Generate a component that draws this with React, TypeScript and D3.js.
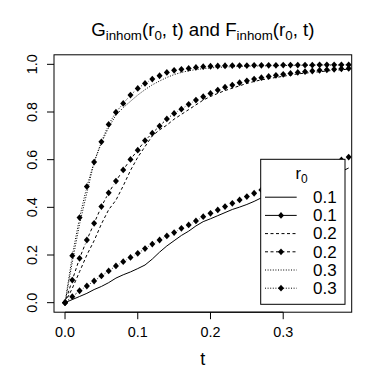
import React from 'react';
import * as d3 from 'd3';

const tValues = [0, 0.01, 0.02, 0.03, 0.04, 0.05, 0.06, 0.07, 0.08, 0.09, 0.1, 0.11, 0.12, 0.13, 0.14, 0.15, 0.16, 0.17, 0.18, 0.19, 0.2, 0.21, 0.22, 0.23, 0.24, 0.25, 0.26, 0.27, 0.28, 0.29, 0.3, 0.31, 0.32, 0.33, 0.34, 0.35, 0.36, 0.37, 0.38, 0.39];

const G01 = [0, 0.013, 0.026, 0.039, 0.055, 0.068, 0.084, 0.103, 0.117, 0.129, 0.143, 0.158, 0.183, 0.212, 0.238, 0.26, 0.282, 0.3, 0.322, 0.34, 0.352, 0.365, 0.378, 0.391, 0.401, 0.412, 0.425, 0.44, 0.45, 0.46, 0.47, 0.48, 0.49, 0.5, 0.51, 0.52, 0.53, 0.54, 0.55, 0.565];
const F01 = [0, 0.025, 0.05, 0.07, 0.091, 0.112, 0.133, 0.154, 0.172, 0.19, 0.207, 0.227, 0.246, 0.263, 0.28, 0.294, 0.312, 0.326, 0.343, 0.361, 0.375, 0.389, 0.403, 0.417, 0.431, 0.445, 0.459, 0.473, 0.485, 0.497, 0.508, 0.519, 0.53, 0.542, 0.553, 0.565, 0.576, 0.588, 0.599, 0.611];
const G02 = [0, 0.06, 0.13, 0.2, 0.26, 0.33, 0.39, 0.43, 0.49, 0.555, 0.61, 0.655, 0.7, 0.725, 0.745, 0.77, 0.79, 0.81, 0.83, 0.85, 0.865, 0.878, 0.89, 0.9, 0.91, 0.92, 0.928, 0.935, 0.94, 0.945, 0.95, 0.955, 0.96, 0.963, 0.966, 0.969, 0.972, 0.975, 0.977, 0.98];
const F02 = [0, 0.095, 0.186, 0.263, 0.333, 0.403, 0.461, 0.51, 0.557, 0.601, 0.64, 0.68, 0.711, 0.741, 0.771, 0.794, 0.812, 0.832, 0.85, 0.864, 0.878, 0.892, 0.904, 0.913, 0.923, 0.931, 0.938, 0.944, 0.949, 0.954, 0.958, 0.962, 0.966, 0.969, 0.972, 0.975, 0.977, 0.979, 0.981, 0.983];
const G03 = [0, 0.17, 0.33, 0.46, 0.59, 0.67, 0.735, 0.787, 0.818, 0.845, 0.871, 0.894, 0.914, 0.93, 0.945, 0.957, 0.966, 0.973, 0.978, 0.982, 0.985, 0.987, 0.989, 0.99, 0.991, 0.992, 0.993, 0.993, 0.994, 0.994, 0.995, 0.995, 0.996, 0.996, 0.996, 0.997, 0.997, 0.997, 0.997, 0.998];
const F03 = [0, 0.197, 0.357, 0.487, 0.59, 0.675, 0.748, 0.799, 0.836, 0.871, 0.899, 0.92, 0.938, 0.952, 0.966, 0.975, 0.979, 0.983, 0.987, 0.99, 0.992, 0.993, 0.994, 0.995, 0.995, 0.995, 0.996, 0.996, 0.996, 0.996, 0.997, 0.997, 0.997, 0.997, 0.997, 0.998, 0.998, 0.998, 0.998, 0.998];

const legendLabels = ['0.1', '0.1', '0.2', '0.2', '0.3', '0.3'];
const xTicks = [0, 0.1, 0.2, 0.3];
const yTicks = [0, 0.2, 0.4, 0.6, 0.8, 1.0];

const FONT = '"Liberation Sans", Arial, Helvetica, sans-serif';
const DASHED = '3,2.5';
const DOTTED = '1,1.6';

const series = [
  { values: G01, dash: undefined as string | undefined, points: false },
  { values: F01, dash: undefined as string | undefined, points: true },
  { values: G02, dash: DASHED, points: false },
  { values: F02, dash: DASHED, points: true },
  { values: G03, dash: DOTTED, points: false },
  { values: F03, dash: DOTTED, points: true },
];

const xlim = [0, 0.379];
const xpad = 0.04 * (xlim[1] - xlim[0]);
const x = d3.scaleLinear().domain([xlim[0] - xpad, xlim[1] + xpad]).range([54, 351.7]);
const y = d3.scaleLinear().domain([-0.04, 1.04]).range([312.2, 54.8]);

function diamond(cx: number, cy: number, key: string) {
  const hw = 3, hh = 3.4;
  return <path key={key} d={`M${cx},${cy - hh}L${cx + hw},${cy}L${cx},${cy + hh}L${cx - hw},${cy}Z`} fill="#000" />;
}

export default function App() {
  const line = d3.line<number>().x((_, i) => x(tValues[i])).y((d) => y(d));
  const x0 = x.range()[0], x1 = x.range()[1];
  const yTop = y.range()[1], yBot = y.range()[0];
  const gap = 4;

  const lg = { left: 260.7, right: 345, top: 159.3, bottom: 304.3 };
  const rowY = (i: number) => 197.2 + i * 18.2;

  return (
    <svg width={380} height={380} style={{ position: 'absolute', left: 0, top: 0, background: '#fff' }} fontFamily={FONT}>
      <rect x={0} y={0} width={380} height={380} fill="#fff" />
      <defs>
        <clipPath id="plotclip">
          <rect x={x0} y={yTop} width={x1 - x0} height={yBot - yTop} />
        </clipPath>
      </defs>
      <g clipPath="url(#plotclip)">
        {series.map((s, si) => {
          if (!s.points) {
            return <path key={si} d={line(s.values) || ''} fill="none" stroke="#000" strokeWidth={1} strokeDasharray={s.dash} />;
          }
          const pts = s.values.map((v, i) => [x(tValues[i]), y(v)] as [number, number]);
          const segs = [] as React.ReactNode[];
          for (let i = 0; i < pts.length - 1; i++) {
            const [ax, ay] = pts[i];
            const [bx, by] = pts[i + 1];
            const d = Math.hypot(bx - ax, by - ay);
            if (d <= 2 * gap) continue;
            const ux = (bx - ax) / d, uy = (by - ay) / d;
            segs.push(
              <line key={`s${si}-${i}`} x1={ax + ux * gap} y1={ay + uy * gap} x2={bx - ux * gap} y2={by - uy * gap}
                stroke="#000" strokeWidth={1} strokeDasharray={s.dash} />
            );
          }
          return (
            <g key={si}>
              {segs}
              {pts.map((p, i) => diamond(p[0], p[1], `p${si}-${i}`))}
            </g>
          );
        })}
      </g>

      {/* legend */}
      <rect x={lg.left} y={lg.top} width={lg.right - lg.left} height={lg.bottom - lg.top} fill="#fff" stroke="#000" strokeWidth={1} />
      <text x={301.7} y={178.5} textAnchor="middle" fontSize={16.5}>
        r<tspan fontSize={12} dy={4}>0</tspan>
      </text>
      {series.map((s, i) => (
        <g key={`lg${i}`}>
          <line x1={265} x2={296.7} y1={rowY(i)} y2={rowY(i)} stroke="#000" strokeWidth={1} strokeDasharray={s.dash} />
          {s.points ? diamond(281, rowY(i), `ld${i}`) : null}
          <text x={313} y={rowY(i) + 5.8} fontSize={17}>{legendLabels[i]}</text>
        </g>
      ))}

      {/* box */}
      <rect x={x0} y={yTop} width={x1 - x0} height={yBot - yTop} fill="none" stroke="#000" strokeWidth={1} />

      {/* x axis */}
      <line x1={x(0)} x2={x(0.3)} y1={yBot} y2={yBot} stroke="#000" />
      {xTicks.map((t) => (
        <g key={`xt${t}`}>
          <line x1={x(t)} x2={x(t)} y1={yBot} y2={yBot + 7} stroke="#000" />
          <text x={x(t)} y={336.7} textAnchor="middle" fontSize={14.4}>{t.toFixed(1)}</text>
        </g>
      ))}
      <text x={(x0 + x1) / 2} y={365} textAnchor="middle" fontSize={18}>t</text>

      {/* y axis */}
      {yTicks.map((v) => (
        <g key={`yt${v}`}>
          <line x1={x0} x2={x0 - 7} y1={y(v)} y2={y(v)} stroke="#000" />
          <text transform={`translate(37.3,${y(v)}) rotate(-90)`} textAnchor="middle" fontSize={14.4}>{v.toFixed(1)}</text>
        </g>
      ))}

      {/* title */}
      <text x={(x0 + x1) / 2} y={36} textAnchor="middle" fontSize={18.7}>
        G<tspan fontSize={13.3} dy={3.8}>inhom</tspan><tspan dy={-3.8}>(r</tspan><tspan fontSize={13.3} dy={3.8}>0</tspan><tspan dy={-3.8}>, t) and F</tspan><tspan fontSize={13.3} dy={3.8}>inhom</tspan><tspan dy={-3.8}>(r</tspan><tspan fontSize={13.3} dy={3.8}>0</tspan><tspan dy={-3.8}>, t)</tspan>
      </text>
    </svg>
  );
}
